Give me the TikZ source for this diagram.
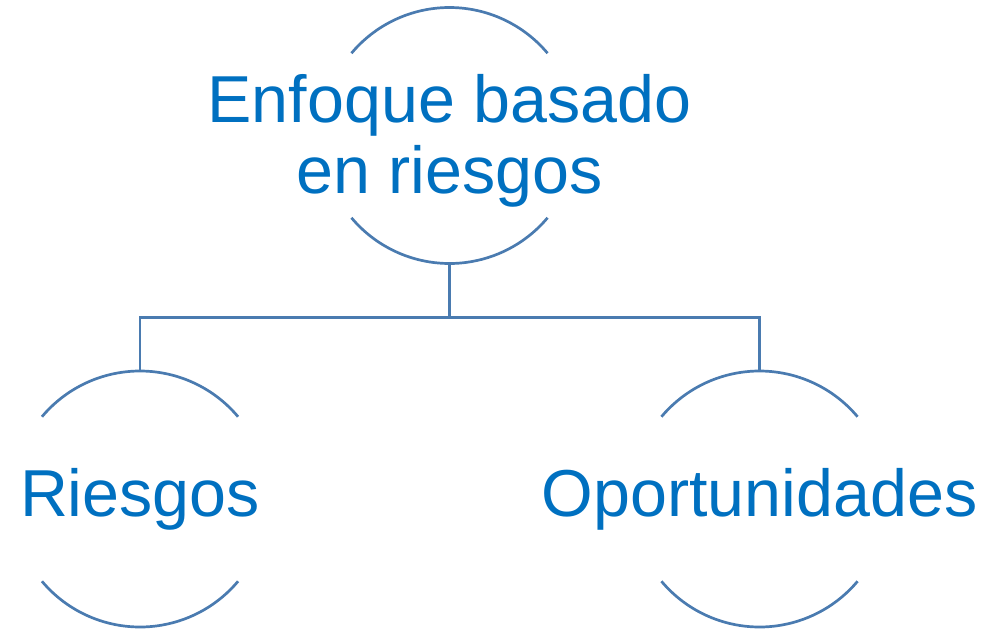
\documentclass[tikz,border=0pt]{standalone}
\usepackage{fontspec}
\setmainfont{Liberation Sans}
\definecolor{ringblue}{HTML}{4A7BB0}
\definecolor{textblue}{HTML}{0070C0}

\begin{document}
\begin{tikzpicture}[x=1pt,y=1pt,
		ring/.style={circle,draw=none,minimum size=128pt,inner sep=0pt,outer sep=0pt},
		caption/.style={inner sep=0pt,text=textblue,align=center,font=\fontsize{33.2pt}{35.5pt}\selectfont},
		link/.style={draw=ringblue,line width=1.35pt}]
		\useasboundingbox (0,0) rectangle (503.5,314.5);
		\node[ring] (1) at (224.75,246.75) {};
		\node[ring] (2) at (70,65) {};
		\node[ring] (3) at (379.75,65) {};
		\node[caption,text depth=0pt] (t1) at ([yshift=1pt]1.center) {Enfoque basado\\en riesgos};
		\node[caption] (t2) at (2.center) {Riesgos};
		\node[caption] (t3) at (3.center) {Oportunidades};
		\coordinate (bus) at (0,155.75);
		\foreach \n in {1,2,3} {
			\draw [link] (\n.40) arc[start angle=40,end angle=140,radius=64pt];
			\draw [link] (\n.220) arc[start angle=220,end angle=320,radius=64pt];
		}
		\draw [link] (1.south) -- (1.south |- bus) -| (2.north);
		\draw [link] (1.south |- bus) -| (3.north);
		\end{tikzpicture}
\end{document}
